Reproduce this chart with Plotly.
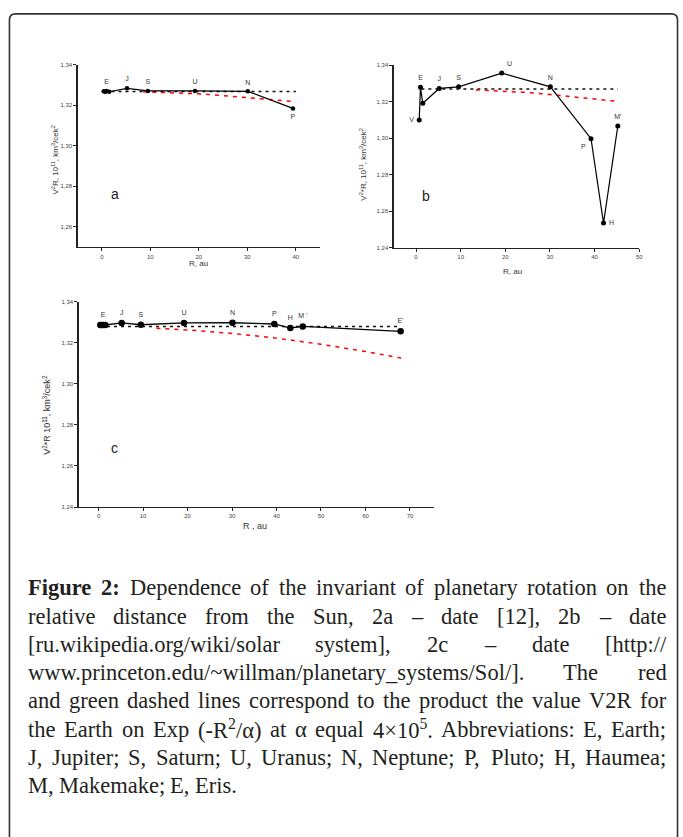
import re
import plotly.graph_objects as go

W, H = 683, 837

# ---------------- data ----------------
# panel a
a_R = [0.39, 0.72, 1.0, 1.52, 5.2, 9.5, 19.2, 30.1, 39.4]
a_V = [1.3268, 1.3266, 1.3270, 1.3266, 1.3283, 1.3270, 1.3270, 1.3268, 1.3184]
a_lab = ["", "", "E", "", "J", "S", "U", "N", "P"]
a_lab_pos = ["top center"] * 8 + ["bottom center"]
a_ref_R = [2.0, 40.0]
a_ref_V = [1.3267, 1.3267]
a_exp_R = [8.5, 15, 20, 25, 30, 35, 40]
a_exp_V = [1.3266, 1.3262, 1.3256, 1.3247, 1.3237, 1.3228, 1.3217]

# panel b
b_R = [0.72, 1.0, 1.52, 5.2, 9.55, 19.2, 30.1, 39.2, 42.0, 45.2]
b_V = [1.3100, 1.3279, 1.3192, 1.3273, 1.3282, 1.3357, 1.3282, 1.2998, 1.2536, 1.3067]
b_lab = ["V", "E", "", "J", "S", "U", "N", "P", "H", "M'"]
b_lab_pos = ["middle left", "top center", "top center", "top center", "top center",
             "top right", "top center", "bottom left", "middle right", "top center"]
b_ref_R = [1.2, 45.2]
b_ref_V = [1.3270, 1.3270]
b_exp_R = [13.4, 20, 25, 30, 35, 40, 45.2]
b_exp_V = [1.3265, 1.3259, 1.3251, 1.3240, 1.3228, 1.3215, 1.3202]

# panel c
c_R = [0.39, 0.72, 1.0, 1.52, 5.2, 9.5, 19.2, 30.1, 39.5, 43.1, 45.9, 67.9]
c_V = [1.3286, 1.3286, 1.3286, 1.3286, 1.3296, 1.3287, 1.3296, 1.3297, 1.3291, 1.3271, 1.3279, 1.3255]
c_lab = ["", "", "E", "", "J", "S", "U", "N", "P", "H", "M '", "E'"]
c_lab_pos = ["top center"] * len(c_lab)
c_ref_R = [1.9, 68.0]
c_ref_V = [1.3278, 1.3278]
c_exp_R = [13, 20, 30, 40, 50, 60, 68]
c_exp_V = [1.3270, 1.3262, 1.3245, 1.3222, 1.3192, 1.3157, 1.3125]

# tick labels
a_yticks = [1.26, 1.28, 1.30, 1.32, 1.34]
bc_yticks = [1.24, 1.26, 1.28, 1.30, 1.32, 1.34]
a_xticks = [0, 10, 20, 30, 40]
b_xticks = [0, 10, 20, 30, 40, 50]
c_xticks = [0, 10, 20, 30, 40, 50, 60, 70]


def comma(v):
    return f"{v:.2f}".replace(".", ",")


# ---------------- figure ----------------
fig = go.Figure()

LBL_FONT = dict(family="Liberation Sans, Arial", size=7, color="#333333")


def add_panel(R, V, labels, lpos, refR, refV, expR, expV, xa, ya, msize, lw):
    fig.add_trace(go.Scatter(x=refR, y=refV, mode="lines", xaxis=xa, yaxis=ya,
                             line=dict(color="#111111", width=1.5, dash="3px,4px"),
                             showlegend=False, hoverinfo="skip"))
    fig.add_trace(go.Scatter(x=expR, y=expV, mode="lines", xaxis=xa, yaxis=ya,
                             line=dict(color="#ff0000", width=1.5, dash="4px,5px"),
                             showlegend=False, hoverinfo="skip"))
    fig.add_trace(go.Scatter(x=R, y=V, mode="lines+markers", xaxis=xa, yaxis=ya,
                             line=dict(color="#000000", width=lw),
                             marker=dict(color="#000000", size=msize),
                             showlegend=False, hoverinfo="skip"))
    idx = [i for i, s in enumerate(labels) if s]
    fig.add_trace(go.Scatter(x=[R[i] for i in idx], y=[V[i] for i in idx],
                             mode="markers+text", xaxis=xa, yaxis=ya,
                             marker=dict(size=msize + 2, color="rgba(0,0,0,0)"),
                             text=[labels[i] for i in idx],
                             textposition=[lpos[i] for i in idx], textfont=LBL_FONT,
                             cliponaxis=False, showlegend=False, hoverinfo="skip"))


add_panel(a_R, a_V, a_lab, a_lab_pos, a_ref_R, a_ref_V, a_exp_R, a_exp_V, "x", "y", 4.5, 1.2)
add_panel(b_R, b_V, b_lab, b_lab_pos, b_ref_R, b_ref_V, b_exp_R, b_exp_V, "x2", "y2", 5, 1.2)
add_panel(c_R, c_V, c_lab, c_lab_pos, c_ref_R, c_ref_V, c_exp_R, c_exp_V, "x3", "y3", 6.5, 1.4)


def px_x(px):
    return px / W


def px_y(py):
    return 1 - py / H


TICKFONT = dict(family="Liberation Sans, Arial", size=6, color="#444444")
axis_common = dict(showline=True, linecolor="#222222", linewidth=1.2, ticks="outside",
                   ticklen=3, tickwidth=1, tickcolor="#222222", showgrid=False,
                   zeroline=False, tickfont=TICKFONT, mirror=False)

fig.update_layout(
    xaxis=dict(domain=[px_x(78), px_x(322)], range=[-5, 45], tickvals=a_xticks,
               anchor="y", **axis_common),
    yaxis=dict(domain=[px_y(246), px_y(62)], range=[1.25, 1.34], tickvals=a_yticks,
               ticktext=[comma(v) for v in a_yticks], anchor="x", **axis_common),
    xaxis2=dict(domain=[px_x(396), px_x(643)], range=[-5, 50], tickvals=b_xticks,
                anchor="y2", **axis_common),
    yaxis2=dict(domain=[px_y(246.7), px_y(62.7)], range=[1.24, 1.34], tickvals=bc_yticks,
                ticktext=[comma(v) for v in bc_yticks], anchor="x2", **axis_common),
    xaxis3=dict(domain=[px_x(79), px_x(437)], range=[-4.5, 75.5], tickvals=c_xticks,
                anchor="y3", **axis_common),
    yaxis3=dict(domain=[px_y(507.7), px_y(300.7)], range=[1.24, 1.34], tickvals=bc_yticks,
                ticktext=[comma(v) for v in bc_yticks], anchor="x3", **axis_common),
)

ann = []
TITLE_FONT = dict(family="Liberation Sans, Arial", size=8, color="#333333")


def txt(px, py, text, font, angle=0, xanchor="center", yanchor="middle"):
    ann.append(dict(x=px_x(px), y=px_y(py), xref="paper", yref="paper", text=text,
                    showarrow=False, font=font, textangle=angle, xanchor=xanchor,
                    yanchor=yanchor, borderpad=0, borderwidth=0))


# axis titles
txt(55, 158, "V<sup>2</sup>R, 10<sup>11</sup>, km<sup>3</sup>/cek<sup>2</sup>", TITLE_FONT, -90)
txt(365, 162, "V<sup>2</sup>*R, 10<sup>11</sup>, km<sup>3</sup>/cek<sup>2</sup>", TITLE_FONT, -90)
txt(47, 415, "V<sup>2</sup>*R 10<sup>11</sup>, km<sup>3</sup>/cek<sup>2</sup>",
    dict(family="Liberation Sans, Arial", size=9, color="#333333"), -90)
txt(200, 262, "R, au", TITLE_FONT)
txt(516, 270, "R, au", TITLE_FONT)
txt(257, 527, "R , au", dict(family="Liberation Sans, Arial", size=9, color="#333333"))

# panel letters
LET_FONT = dict(family="Liberation Sans, Arial", size=14, color="#222222")
txt(116, 192, "a", LET_FONT)
txt(429, 194, "b", LET_FONT)
txt(115, 448, "c", LET_FONT)

# ---------------- caption (justified) ----------------
TR = {' ': 250, '!': 333, '(': 333, ')': 333, ',': 250, '-': 333, '.': 250, '/': 278,
      ':': 278, ';': 278, '[': 333, ']': 333, '_': 500, '~': 541, '\'': 333,
      '–': 500, '×': 564, 'α': 520,
      'A': 722, 'B': 667, 'C': 667, 'D': 722, 'E': 611, 'F': 556, 'G': 722, 'H': 722,
      'I': 333, 'J': 389, 'K': 722, 'L': 611, 'M': 889, 'N': 722, 'O': 722, 'P': 556,
      'Q': 722, 'R': 667, 'S': 556, 'T': 611, 'U': 722, 'V': 722, 'W': 944, 'X': 722,
      'Y': 722, 'Z': 611,
      'a': 444, 'b': 500, 'c': 444, 'd': 500, 'e': 444, 'f': 333, 'g': 500, 'h': 500,
      'i': 278, 'j': 278, 'k': 500, 'l': 278, 'm': 778, 'n': 500, 'o': 500, 'p': 500,
      'q': 500, 'r': 333, 's': 389, 't': 278, 'u': 500, 'v': 500, 'w': 722, 'x': 500,
      'y': 500, 'z': 444}
for d in "0123456789":
    TR[d] = 500
TB = {'F': 611, 'i': 278, 'g': 500, 'u': 556, 'r': 444, 'e': 444, '2': 500, ':': 333, ' ': 250}


def text_width(html, size):
    w = 0.0
    bold = sup = False
    for tok in re.split(r'(<[^>]+>)', html):
        if tok.startswith('<'):
            t = tok.lower()
            if t == '<b>':
                bold = True
            elif t == '</b>':
                bold = False
            elif t == '<sup>':
                sup = True
            elif t == '</sup>':
                sup = False
            continue
        for ch in tok:
            tbl = TB if bold else TR
            cw = tbl.get(ch, TR.get(ch, 500))
            w += cw * (0.7 if sup else 1.0)
    return w / 1000.0 * size


CAP_SIZE = 22.5
CAP_FONT = dict(family="Liberation Serif, Times New Roman, serif", size=CAP_SIZE, color="#231f20")
CAP_L, CAP_R = 28, 670

caption_lines = [
    "<b>Figure</b> <b>2:</b> Dependence of the invariant of planetary rotation on the",
    "relative distance from the Sun, 2a – date [12], 2b – date",
    "[ru.wikipedia.org/wiki/solar system], 2c – date [http://",
    "www.princeton.edu/~willman/planetary_systems/Sol/]. The red",
    "and green dashed lines correspond to the product the value V2R for",
    "the Earth on Exp (-R<sup>2</sup>/α) at α equal 4×10<sup>5</sup>. Abbreviations: E, Earth;",
    "J, Jupiter; S, Saturn; U, Uranus; N, Neptune; P, Pluto; H, Haumea;",
    "M, Makemake; E, Eris.",
]
caption_y = [589, 617.5, 646, 674.5, 703, 731.5, 760, 788.5]

for i, (line, cy) in enumerate(zip(caption_lines, caption_y)):
    words = line.split(" ")
    widths = [text_width(w, CAP_SIZE) for w in words]
    if i < len(caption_lines) - 1 and len(words) > 1:
        gap = (CAP_R - CAP_L - sum(widths)) / (len(words) - 1)
    else:
        gap = 0.25 * CAP_SIZE
    x = CAP_L
    for w, wd in zip(words, widths):
        txt(x, cy, w, CAP_FONT, xanchor="left")
        x += wd + gap

fig.update_layout(annotations=ann)

# rounded frame
l, t, r, b, rad = 9.5, 11.0, 681.5, 850.0, 6.0
path = (f"M {px_x(l + rad)} {px_y(t)} L {px_x(r - rad)} {px_y(t)} "
        f"Q {px_x(r)} {px_y(t)} {px_x(r)} {px_y(t + rad)} L {px_x(r)} {px_y(b)} "
        f"L {px_x(l)} {px_y(b)} L {px_x(l)} {px_y(t + rad)} "
        f"Q {px_x(l)} {px_y(t)} {px_x(l + rad)} {px_y(t)} Z")
fig.add_shape(type="path", path=path, xref="paper", yref="paper",
              line=dict(color="#333333", width=1.6), fillcolor="rgba(0,0,0,0)")

fig.update_layout(width=W, height=H, margin=dict(l=0, r=0, t=0, b=0),
                  paper_bgcolor="white", plot_bgcolor="white", showlegend=False)

fig.write_html("out.html", config={"displayModeBar": False, "staticPlot": True},
               post_script="document.body.style.margin='0';document.body.style.overflow='hidden';")
